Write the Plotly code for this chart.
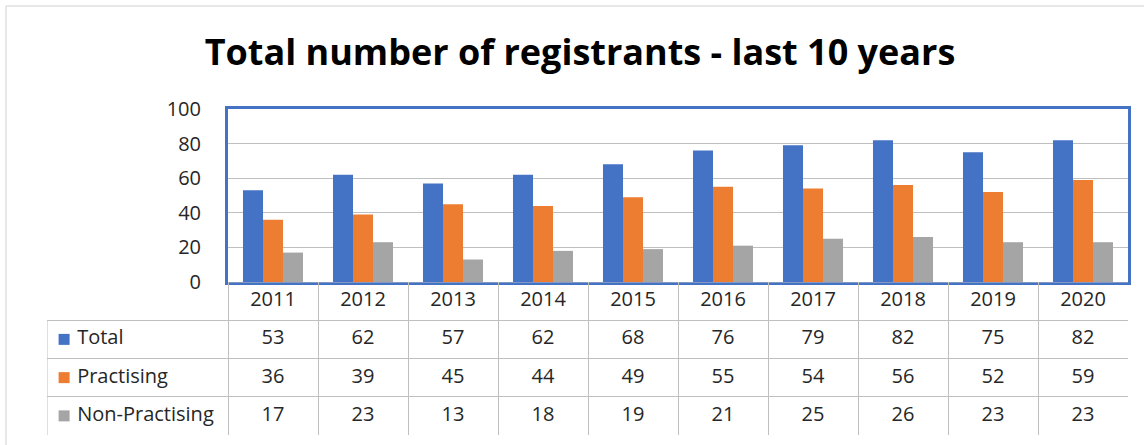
import plotly.graph_objects as go

years = ["2011", "2012", "2013", "2014", "2015", "2016", "2017", "2018", "2019", "2020"]
total = [53, 62, 57, 62, 68, 76, 79, 82, 75, 82]
practising = [36, 39, 45, 44, 49, 55, 54, 56, 52, 59]
non_practising = [17, 23, 13, 18, 19, 21, 25, 26, 23, 23]
series_names = ["Total", "Practising", "Non-Practising"]
colors = ["#4472C4", "#ED7D31", "#A5A5A5"]

W, H = 1144, 445
FONT = "'Open Sans', Calibri, sans-serif"
TXT = "#262626"
GRID = "#BFBFBF"

def px(x):
    return x / W

def py(y):
    return 1 - y / H

plot_l, plot_r, plot_t, plot_b = 228, 1128, 109, 282
tbl_l, tbl_b = 47, 435
n = len(years)
col_w = (plot_r - plot_l) / n
left_units = (plot_l - tbl_l) / col_w
x2_min = -0.5 - left_units
series_vals = [total, practising, non_practising]
n_rows = len(series_names) + 1  # header + series rows

fig = go.Figure()
for name, vals, c in zip(series_names, series_vals, colors):
    fig.add_trace(go.Bar(x=list(range(n)), y=vals, name=name,
                         marker=dict(color=c, line=dict(width=0)),
                         showlegend=False, hovertext=years, hoverinfo="text+y+name"))

# table: header row of years
fig.add_trace(go.Scatter(x=list(range(n)), y=[n_rows - 0.5] * n, text=years, mode="text",
                         textfont=dict(family=FONT, size=20, color=TXT),
                         xaxis="x2", yaxis="y2", showlegend=False, hoverinfo="skip"))
# table: values
for r, vals in enumerate(series_vals):
    yrow = n_rows - 1.5 - r
    fig.add_trace(go.Scatter(x=list(range(n)), y=[yrow] * n, text=[str(v) for v in vals],
                             mode="text", textfont=dict(family=FONT, size=20, color=TXT),
                             xaxis="x2", yaxis="y2", showlegend=False, hoverinfo="skip"))
# table: legend keys + labels
fig.add_trace(go.Scatter(x=[x2_min + 0.19] * len(series_names),
                         y=[n_rows - 1.5 - r for r in range(len(series_names))],
                         text=["\u00a0" + s for s in series_names],
                         mode="markers+text", textposition="middle right",
                         marker=dict(symbol="square", size=11, color=colors, line=dict(width=0)),
                         textfont=dict(family=FONT, size=20, color=TXT),
                         xaxis="x2", yaxis="y2", showlegend=False, hoverinfo="skip"))

shapes = [
    # outer chart frame
    dict(type="line", xref="paper", yref="paper", x0=px(6), x1=px(6), y0=0, y1=py(6),
         line=dict(color="#D0D0D0", width=1)),
    dict(type="line", xref="paper", yref="paper", x0=px(6), x1=1, y0=py(6), y1=py(6),
         line=dict(color="#D0D0D0", width=1)),
    # table outline pieces not covered by gridlines
    dict(type="line", xref="x2", yref="y2", x0=x2_min, x1=x2_min, y0=0, y1=n_rows - 1,
         line=dict(color=GRID, width=1)),
    dict(type="line", xref="x2", yref="y2", x0=-0.5, x1=n - 0.5, y0=n_rows, y1=n_rows,
         line=dict(color=GRID, width=1)),
]

fig.update_layout(
    width=W, height=H,
    margin=dict(l=0, r=0, t=0, b=0, autoexpand=False),
    paper_bgcolor="white", plot_bgcolor="white",
    barmode="group", bargap=0.333, bargroupgap=0,
    font=dict(family=FONT, color=TXT),
    title=dict(text="<b>Total number of registrants - last 10 years</b>",
               x=px(580), y=py(52), xanchor="center", yanchor="middle",
               font=dict(family=FONT, size=36, color="#000000")),
    xaxis=dict(domain=[px(plot_l), px(plot_r)], range=[-0.5, n - 0.5],
               showticklabels=False, showgrid=False,
               showline=True, linecolor="#4472C4", linewidth=3, mirror=True, zeroline=False),
    yaxis=dict(domain=[py(plot_b), py(plot_t)], range=[0, 100], dtick=20,
               showgrid=True, gridcolor=GRID, gridwidth=1,
               showline=True, linecolor="#4472C4", linewidth=3, mirror=True, zeroline=False,
               ticks="", ticklabelstandoff=20,
               tickfont=dict(family=FONT, size=20, color=TXT)),
    xaxis2=dict(domain=[px(tbl_l), px(plot_r)], range=[x2_min, n - 0.5], anchor="y2",
                tickmode="array", tickvals=[i - 0.5 for i in range(n + 1)],
                showticklabels=False, showgrid=True, gridcolor=GRID, gridwidth=1,
                zeroline=False, showline=False, fixedrange=True),
    yaxis2=dict(domain=[py(tbl_b), py(plot_b)], range=[0, n_rows], anchor="x2",
                tickmode="array", tickvals=list(range(n_rows)),
                showticklabels=False, showgrid=True, gridcolor=GRID, gridwidth=1,
                zeroline=False, showline=False, fixedrange=True),
    shapes=shapes,
)

fig.write_html("out.html", config={"displayModeBar": False},
               post_script="document.body.style.margin='0';document.body.style.overflow='hidden';")
